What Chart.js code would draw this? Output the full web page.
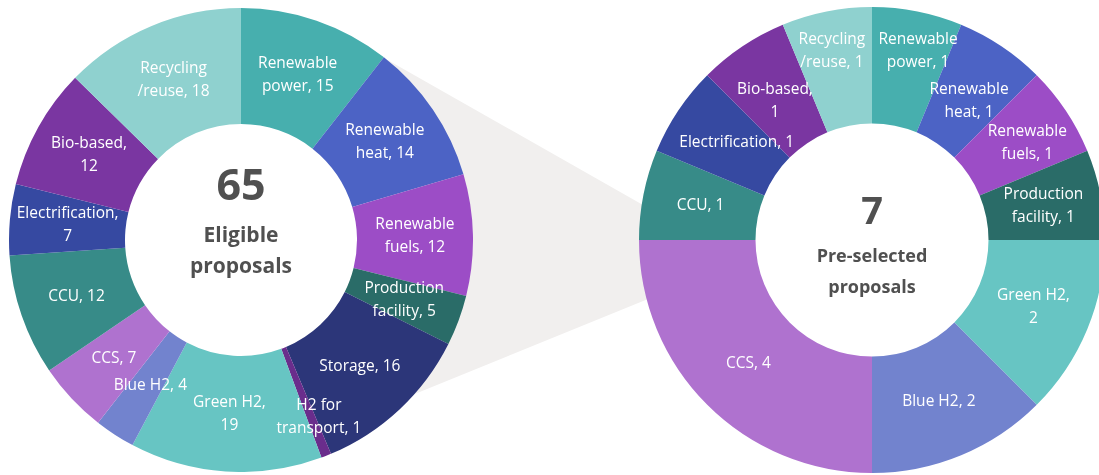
<!DOCTYPE html>
<html>
<head>
<meta charset="utf-8">
<script src="https://cdn.jsdelivr.net/npm/chart.js@4.4.1/dist/chart.umd.min.js"></script>
<style>
  html, body { margin: 0; padding: 0; background: #fff; overflow: hidden; }
  #escena { position: relative; width: 1099px; height: 475px; overflow: hidden; }
  #zoom {
    position: absolute; left: 0; top: 0; width: 1099px; height: 475px;
    background: #f1efee;
    clip-path: polygon(370px 50px, 680px 226px, 680px 286px, 400px 400px);
  }
  canvas { position: absolute; }
  #izq { left: 9px; top: 8px; }
  #der { left: 639px; top: 7px; }
</style>
</head>
<body>
<div id="escena">
  <div id="zoom"></div>
  <canvas id="izq" width="464" height="464"></canvas>
  <canvas id="der" width="466" height="466"></canvas>
</div>
<script>
// Categorías (orden horario desde las 12)
const catsElegibles = ['Renewable\npower', 'Renewable\nheat', 'Renewable\nfuels', 'Production\nfacility',
  'Storage', 'H2 for\ntransport', 'Green H2', 'Blue H2', 'CCS', 'CCU', 'Electrification', 'Bio-based', 'Recycling\n/reuse'];
const valoresElegibles = [15, 14, 12, 5, 16, 1, 19, 4, 7, 12, 7, 12, 18];
const coloresElegibles = ['#47afae', '#4c63c5', '#9c4dc6', '#2a6c68', '#2c3679', '#6a2d8c', '#67c5c3',
  '#7283ce', '#af72cf', '#378b88', '#3649a1', '#7a36a1', '#8fd1cf'];
// categorías cuyo valor va en la línea siguiente
const saltoElegibles = ['Green H2', 'Electrification', 'Bio-based'];

const catsPre = ['Renewable\npower', 'Renewable\nheat', 'Renewable\nfuels', 'Production\nfacility',
  'Green H2', 'Blue H2', 'CCS', 'CCU', 'Electrification', 'Bio-based', 'Recycling\n/reuse'];
const valoresPre = [1, 1, 1, 1, 2, 2, 4, 1, 1, 1, 1];
const coloresPre = ['#47afae', '#4c63c5', '#9c4dc6', '#2a6c68', '#67c5c3', '#7283ce', '#af72cf',
  '#378b88', '#3649a1', '#7a36a1', '#8fd1cf'];
const saltoPre = ['Green H2', 'Bio-based'];

const totalElegibles = '65';
const totalPre = '7';

const FUENTE = '"Open Sans", "Liberation Sans", sans-serif';

// Etiquetas sobre cada porción
const etiquetasPlugin = {
  id: 'etiquetas',
  afterDatasetsDraw(chart, args, opts) {
    const { ctx } = chart;
    const ds = chart.data.datasets[0];
    const meta = chart.getDatasetMeta(0);
    ctx.save();
    ctx.fillStyle = '#ffffff';
    ctx.font = `${opts.size}px ${FUENTE}`;
    ctx.textAlign = 'center';
    ctx.textBaseline = 'middle';
    meta.data.forEach((arc, i) => {
      const nombre = chart.data.labels[i];
      const sep = opts.salto.includes(nombre) ? ',\n' : ', ';
      const lineas = (nombre + sep + ds.data[i]).split('\n');
      const p = arc.tooltipPosition();
      const d = (opts.ajustes && opts.ajustes[i]) || [0, 0];
      const alto = 23;
      lineas.forEach((t, k) => {
        ctx.fillText(t, p.x + d[0], p.y + d[1] + (k - (lineas.length - 1) / 2) * alto);
      });
    });
    ctx.restore();
  }
};

// Texto central
const centroPlugin = {
  id: 'centro',
  afterDraw(chart, args, opts) {
    const { ctx } = chart;
    const cx = (chart.chartArea.left + chart.chartArea.right) / 2;
    const cy = (chart.chartArea.top + chart.chartArea.bottom) / 2;
    ctx.save();
    ctx.fillStyle = '#505050';
    ctx.textAlign = 'center';
    ctx.textBaseline = 'middle';
    opts.lineas.forEach(l => {
      ctx.font = `bold ${l.size}px ${FUENTE}`;
      ctx.fillText(l.texto, cx, cy + l.dy);
    });
    ctx.restore();
  }
};

function crearDona(id, labels, data, colores, salto, centro, ajustes) {
  return new Chart(document.getElementById(id), {
    type: 'doughnut',
    data: {
      labels: labels,
      datasets: [{
        data: data,
        backgroundColor: colores,
        borderWidth: 0
      }]
    },
    options: {
      responsive: false,
      animation: false,
      cutout: '50%',
      layout: { padding: 0 },
      plugins: {
        legend: { display: false },
        tooltip: { enabled: false },
        etiquetas: { size: 15.5, salto: salto, ajustes: ajustes },
        centro: { lineas: centro }
      }
    },
    plugins: [etiquetasPlugin, centroPlugin]
  });
}

crearDona('izq', catsElegibles, valoresElegibles, coloresElegibles, saltoElegibles, [
  { texto: totalElegibles, size: 43, dy: -52 },
  { texto: 'Eligible', size: 21, dy: -4 },
  { texto: 'proposals', size: 21, dy: 27 }
], { 5: [14, 15], 7: [4, 0] });

crearDona('der', catsPre, valoresPre, coloresPre, saltoPre, [
  { texto: totalPre, size: 38, dy: -27 },
  { texto: 'Pre-selected', size: 18, dy: 17 },
  { texto: 'proposals', size: 18, dy: 48 }
], { 0: [12, -18], 10: [-6, -18], 1: [0, 6], 9: [0, 6], 2: [10, 0], 8: [10, 0] });
</script>
</body>
</html>
